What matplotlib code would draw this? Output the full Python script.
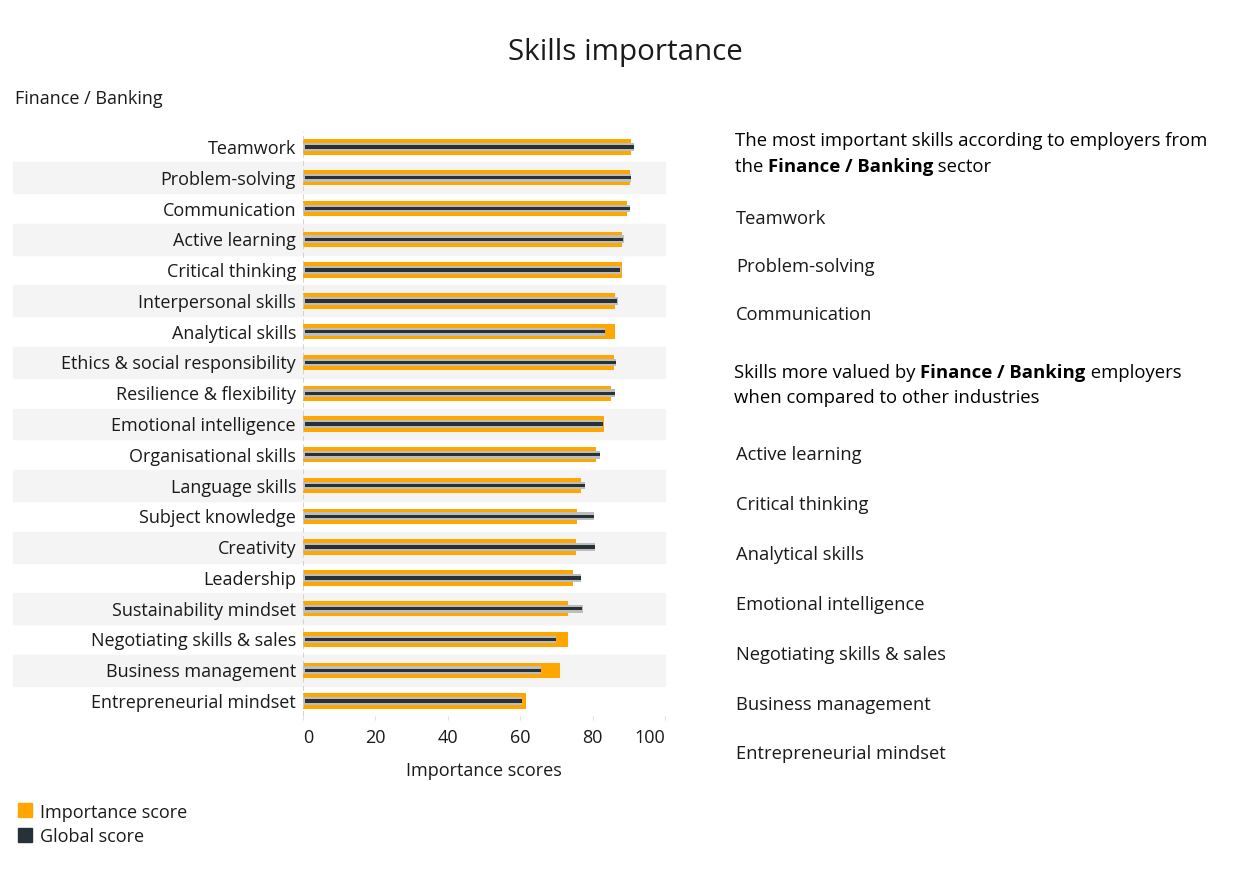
import numpy as np
import matplotlib
matplotlib.use("Agg")
import matplotlib.pyplot as plt
import matplotlib.transforms as mtransforms
from matplotlib.patches import Rectangle

plt.rcParams['font.family'] = ['Open Sans', 'DejaVu Sans']

skills = ["Teamwork", "Problem-solving", "Communication", "Active learning",
          "Critical thinking", "Interpersonal skills", "Analytical skills",
          "Ethics & social responsibility", "Resilience & flexibility",
          "Emotional intelligence", "Organisational skills", "Language skills",
          "Subject knowledge", "Creativity", "Leadership", "Sustainability mindset",
          "Negotiating skills & sales", "Business management", "Entrepreneurial mindset"]
importance = [90.6, 90.3, 89.4, 88.2, 88.2, 86.1, 86.1, 85.8, 85.0, 83.2,
              80.9, 76.7, 75.8, 75.5, 74.7, 73.2, 73.2, 71.1, 61.6]
global_score = [90.8, 90.0, 89.8, 88.0, 87.2, 86.3, 82.9, 86.0, 85.6, 82.4,
                81.5, 77.3, 79.8, 80.1, 76.2, 76.7, 69.3, 65.2, 59.9]
xticks = [0, 20, 40, 60, 80, 100]

top_skills = ["Teamwork", "Problem-solving", "Communication"]
valued_skills = ["Active learning", "Critical thinking", "Analytical skills",
                 "Emotional intelligence", "Negotiating skills & sales",
                 "Business management", "Entrepreneurial mindset"]

ORANGE = "#ffa600"
DARK = "#263238"
GREY = "#bdbdbd"
BAND = "#f4f4f4"
TXT = "#1a1a1a"

W, H = 1250, 877
DY = 2.5  # text baseline nudge (px)
fig = plt.figure(figsize=(12.5, 8.77), dpi=100)
ax = fig.add_axes([303 / W, 1 - 716.4 / H, (665 - 303) / W, (716.4 - 131.6) / H])

n = len(skills)
y = np.arange(n)

# alternating row bands, extending into the label area
trans = mtransforms.blended_transform_factory(fig.transFigure, ax.transData)
for i in y:
    if i % 2 == 1:
        ax.add_patch(Rectangle((13 / W, i - 0.5), (665 - 13) / W, 1.0,
                               transform=trans, color=BAND, clip_on=False, zorder=0))

ax.barh(y, importance, height=0.5, color=ORANGE, zorder=2)
ax.barh(y, np.array(global_score) + 0.6, height=0.25, color=GREY, zorder=3)
ax.barh(y, global_score, left=0.5, height=0.11, color=DARK, zorder=4)

ax.axvline(0, color="#cccccc", linestyle=(0, (3, 2)), linewidth=1.2, zorder=5)

ax.set_xlim(0, 100)
ax.set_ylim(n - 0.5, -0.5)
ax.set_yticks(y)
ax.set_yticklabels(skills, fontsize=13, color=TXT)
ax.set_xticks(xticks)
ax.set_xticklabels([str(t) for t in xticks], fontsize=13, color=TXT)
labs = ax.get_xticklabels()
labs[0].set_horizontalalignment('left')
labs[-1].set_horizontalalignment('right')
ax.tick_params(axis='y', length=0, pad=5)
ax.tick_params(axis='x', length=3, color="#e0e0e0", pad=6)
for s in ax.spines.values():
    s.set_visible(False)
ax.set_xlabel("Importance scores", fontsize=13, color=TXT, labelpad=11)

fig.text(625 / W, 1 - (50 + DY) / H, "Skills importance", ha='center', va='center',
         fontsize=21.3, color=TXT)
fig.text(15 / W, 1 - (97 + DY) / H, "Finance / Banking", ha='left', va='center',
         fontsize=13, color=TXT)

# legend
for yy, col, lab in [(810, ORANGE, "Importance score"), (835, DARK, "Global score")]:
    fig.patches.append(Rectangle((18 / W, 1 - (yy + 7) / H), 14 / W, 14 / H,
                                 transform=fig.transFigure, color=col))
    fig.text(40 / W, 1 - (yy + DY) / H, lab, ha='left', va='center', fontsize=13, color=TXT)

# right panel text
renderer = fig.canvas.get_renderer()


def rich_line(x, yy, parts, size=13.3):
    # parts: list of (text, bold)
    for txt, bold in parts:
        t = fig.text(x / W, 1 - (yy + DY) / H, txt, ha='left', va='center', fontsize=size,
                     color="black", fontweight='bold' if bold else 'normal')
        bb = t.get_window_extent(renderer)
        x += bb.width


rich_line(735, 139, [("The most important skills according to employers from", False)])
rich_line(735, 164, [("the ", False), ("Finance / Banking", True), (" sector", False)])
for k, s in enumerate(top_skills):
    fig.text(736 / W, 1 - (217 + 48 * k + DY) / H, s, ha='left', va='center',
             fontsize=13.2, color=TXT)

rich_line(734, 370, [("Skills more valued by ", False), ("Finance / Banking", True),
                     (" employers", False)])
rich_line(734, 395, [("when compared to other industries", False)])
for k, s in enumerate(valued_skills):
    fig.text(736 / W, 1 - (453 + 49.8 * k + DY) / H, s, ha='left', va='center',
             fontsize=13.2, color=TXT)

fig.savefig("out.png", dpi=100, facecolor="white")
